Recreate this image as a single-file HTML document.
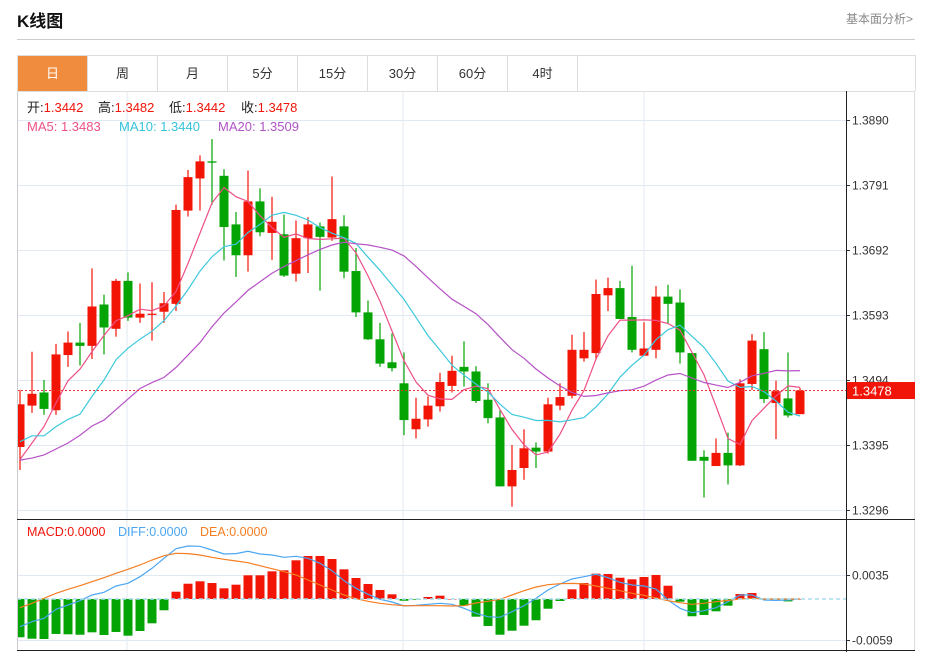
<!DOCTYPE html>
<html><head><meta charset="utf-8">
<style>
html,body{margin:0;padding:0;background:#fff;}
body{width:925px;height:653px;position:relative;overflow:hidden;font-family:"Liberation Sans","Noto Sans CJK SC",sans-serif;}
.title{position:absolute;left:17px;top:7px;font-size:17px;font-weight:bold;color:#111;}
.more{position:absolute;right:12px;top:10px;font-size:12px;color:#888;}
.hr{position:absolute;left:17px;top:39px;width:898px;height:1px;background:#ccc;}
.tabs{position:absolute;left:17px;top:55px;width:897px;height:35px;border:1px solid #ddd;border-bottom:none;display:flex;}
.tab{width:69px;height:35px;line-height:35px;text-align:center;font-size:13px;color:#333;border-right:1px solid #ddd;}
.tab.active{background:#f08c3e;color:#fff;}
svg{position:absolute;left:0;top:0;}
</style></head>
<body>
<div class="title">K线图</div>
<div class="more">基本面分析&gt;</div>
<div class="hr"></div>
<div class="tabs">
<div class="tab active">日</div>
<div class="tab">周</div>
<div class="tab">月</div>
<div class="tab">5分</div>
<div class="tab">15分</div>
<div class="tab">30分</div>
<div class="tab">60分</div>
<div class="tab">4时</div>
</div>
<svg id="chart" width="925" height="653"></svg>
<script>
const opens=[1.3392,1.3455,1.3475,1.3448,1.3532,1.3551,1.3546,1.3609,1.3572,1.3645,1.3589,1.3594,1.3598,1.3610,1.3752,1.3801,1.3827,1.3805,1.3731,1.3684,1.3766,1.3718,1.3716,1.3656,1.3710,1.3728,1.3711,1.3728,1.3660,1.3597,1.3556,1.3521,1.3489,1.3419,1.3434,1.3454,1.3485,1.3514,1.3507,1.3464,1.3437,1.3332,1.3360,1.3391,1.3385,1.3455,1.3470,1.3527,1.3535,1.3623,1.3634,1.3590,1.3531,1.3540,1.3621,1.3612,1.3535,1.3377,1.3363,1.3383,1.3364,1.3488,1.3541,1.3459,1.3466,1.3442];
const highs=[1.3479,1.3537,1.3494,1.3549,1.3568,1.3581,1.3664,1.3624,1.3648,1.3658,1.3641,1.3643,1.3628,1.3761,1.3814,1.3836,1.3861,1.3815,1.3750,1.3813,1.3786,1.3773,1.3746,1.3737,1.3742,1.3734,1.3804,1.3745,1.3695,1.3615,1.3581,1.3565,1.3536,1.3467,1.3469,1.3505,1.3531,1.3553,1.3515,1.3489,1.3448,1.3395,1.3419,1.3399,1.3467,1.3489,1.3563,1.3567,1.3647,1.3650,1.3645,1.3668,1.3582,1.3637,1.3639,1.3632,1.3535,1.3387,1.3405,1.3414,1.3495,1.3564,1.3567,1.3493,1.3536,1.3482];
const lows=[1.3357,1.3444,1.3441,1.3441,1.3514,1.3516,1.3526,1.3533,1.3560,1.3584,1.3581,1.3554,1.3581,1.3599,1.3743,1.3752,1.3761,1.3676,1.3651,1.3659,1.3713,1.3677,1.3651,1.3644,1.3657,1.3630,1.3706,1.3649,1.3590,1.3555,1.3514,1.3507,1.3410,1.3405,1.3423,1.3446,1.3475,1.3484,1.3459,1.3428,1.3332,1.3301,1.3342,1.3360,1.3382,1.3448,1.3466,1.3522,1.3525,1.3599,1.3587,1.3536,1.3531,1.3527,1.3580,1.3519,1.3371,1.3315,1.3363,1.3335,1.3363,1.3479,1.3459,1.3404,1.3437,1.3442];
const closes=[1.3457,1.3473,1.3450,1.3533,1.3551,1.3546,1.3606,1.3574,1.3645,1.3589,1.3595,1.3595,1.3611,1.3753,1.3803,1.3827,1.3825,1.3727,1.3684,1.3766,1.3719,1.3735,1.3653,1.3710,1.3731,1.3712,1.3739,1.3659,1.3597,1.3556,1.3519,1.3512,1.3433,1.3435,1.3455,1.3491,1.3508,1.3507,1.3462,1.3436,1.3332,1.3357,1.3390,1.3385,1.3457,1.3468,1.3540,1.3540,1.3625,1.3634,1.3587,1.3540,1.3542,1.3621,1.3610,1.3536,1.3371,1.3371,1.3383,1.3364,1.3489,1.3554,1.3465,1.3477,1.3440,1.3478];
// moving-average values for the leading bars whose window starts before the visible data
const ma5Lead=[1.3373,1.3398,1.3423,1.3459];
const ma10Lead=[1.3400,1.3409,1.3409,1.3423,1.3434,1.3442,1.3469,1.3494,1.3525];
const ma20Lead=[1.3372,1.3375,1.3380,1.3389,1.3398,1.3410,1.3424,1.3433,1.3449,1.3465,1.3481,1.3490,1.3498,1.3513,1.3532,1.3551,1.3575,1.3596,1.3613];
const priceTicks=[1.3890,1.3791,1.3692,1.3593,1.3494,1.3395,1.3296];
const lastPrice=1.3478;
const macdHist=[-0.00556,-0.00577,-0.00581,-0.00508,-0.00513,-0.00519,-0.00484,-0.00523,-0.00479,-0.00533,-0.00465,-0.00353,-0.00164,0.00106,0.00222,0.00257,0.00232,0.00155,0.00208,0.00344,0.00344,0.00402,0.00417,0.00562,0.00625,0.00625,0.00581,0.00431,0.00305,0.00218,0.00131,0.00068,-0.00025,-0.0001,0.00029,0.00048,0,-0.00097,-0.00257,-0.00392,-0.00519,-0.00461,-0.00388,-0.00309,-0.00141,-0.00029,0.00141,0.00232,0.00368,0.00363,0.00309,0.00286,0.0032,0.00349,0.00193,-0.00039,-0.00251,-0.00232,-0.00179,-0.00097,0.00073,0.00087,-0.0001,-0.0001,-0.00035,0];
const diffLine=[-0.00402,-0.0033,-0.0028,-0.0015,-0.00087,-0.00025,0.00058,0.00097,0.00189,0.00228,0.00324,0.00446,0.00591,0.00731,0.0077,0.00765,0.00712,0.00654,0.00659,0.00693,0.00654,0.00639,0.00606,0.0062,0.00591,0.00518,0.00411,0.00266,0.00155,0.00068,-0.00004,-0.00044,-0.00102,-0.00092,-0.00077,-0.00063,-0.00077,-0.00135,-0.00208,-0.00257,-0.00266,-0.00184,-0.00097,0.0001,0.00131,0.00218,0.00291,0.00324,0.00359,0.00309,0.00243,0.00203,0.00189,0.00145,-0.00015,-0.00135,-0.00199,-0.0017,-0.00126,-0.00039,0.00058,0.00058,-0.00015,-0.0002,-0.00015,0];
const deaLine=[-0.00126,-0.00063,0.0001,0.00083,0.00141,0.00193,0.00251,0.00309,0.00373,0.00431,0.00494,0.00567,0.00629,0.00664,0.00659,0.00639,0.00606,0.00577,0.00552,0.00527,0.00484,0.0044,0.00397,0.00349,0.00276,0.00203,0.00131,0.00058,0.00004,-0.00033,-0.00063,-0.00083,-0.00097,-0.00097,-0.00097,-0.00097,-0.00102,-0.00097,-0.00058,-0.00033,-0.00004,0.00058,0.00121,0.00174,0.00208,0.00222,0.00227,0.00218,0.00189,0.00155,0.00121,0.00083,0.00054,0.00015,-0.00025,-0.00054,-0.00077,-0.00063,-0.00039,-0.0002,0,0.0001,0,0,0,0];
const macdTicks=[0.0035,-0.0059];

const svg=document.getElementById('chart');
const NS='http://www.w3.org/2000/svg';
function mk(tag,attrs,parent){const e=document.createElementNS(NS,tag);for(const k in attrs)e.setAttribute(k,attrs[k]);(parent||svg).appendChild(e);return e;}
const PL=17,PR=846,MT=91,MB=519,ST=519,SB=650;
const xOf=i=>20+12*i;
const yP=p=>120+(1.3890-p)*6566;
const yM=v=>599-v*6883;

const defs=mk('defs',{});
const cp=mk('clipPath',{id:'plotclip'},defs);
mk('rect',{x:PL,y:MT,width:PR-PL,height:SB-MT},cp);

[127,403,644].forEach(x=>{const g=mk('line',{x1:x,y1:MT,x2:x,y2:SB,stroke:'#e1eaf2','stroke-width':1});

});
priceTicks.forEach(p=>{const y=Math.round(yP(p))+0.5;
const g=mk('line',{x1:PL,y1:y,x2:PR,y2:y,stroke:'#e1eaf2','stroke-width':1});


mk('line',{x1:PR,y1:y,x2:PR+4,y2:y,stroke:'#333','stroke-width':1});
const t=mk('text',{x:PR+6,y:y+4,'font-size':12,fill:'#333','font-family':'Liberation Sans, sans-serif'});t.textContent=p.toFixed(4);

});
macdTicks.forEach(v=>{const y=Math.round(yM(v))+0.5;
const g=mk('line',{x1:PL,y1:y,x2:PR,y2:y,stroke:'#e1eaf2','stroke-width':1});


mk('line',{x1:PR,y1:y,x2:PR+4,y2:y,stroke:'#333','stroke-width':1});
const t=mk('text',{x:PR+6,y:y+4,'font-size':12,fill:'#333','font-family':'Liberation Sans, sans-serif'});t.textContent=v.toFixed(4);

});

const plot=mk('g',{'clip-path':'url(#plotclip)'});



const RED='#f21405',GREEN='#04a404';
for(let i=0;i<opens.length;i++){
 const up=closes[i]>=opens[i];const c=up?RED:GREEN;const x=xOf(i);
 const g=mk('g',{},plot);
 
 
 mk('line',{x1:x,y1:yP(highs[i]),x2:x,y2:yP(lows[i]),stroke:c,'stroke-width':1.2},g);
 const top=yP(Math.max(opens[i],closes[i])),bot=yP(Math.min(opens[i],closes[i]));
 mk('rect',{x:x-4.5,y:top,width:9,height:Math.max(1.2,bot-top),fill:c},g);
}
function ma(n,lead){return closes.map((c,i)=>{if(i<n-1)return lead[i];let s=0;for(let k=i-n+1;k<=i;k++)s+=closes[k];return s/n;});}
[[ma(5,ma5Lead),'#ee4f86','ma5-line'],[ma(10,ma10Lead),'#3cc8dc','ma10-line'],[ma(20,ma20Lead),'#b652c6','ma20-line']].forEach(([arr,col,name])=>{
 const l=mk('polyline',{points:arr.map((v,i)=>xOf(i)+','+yP(v).toFixed(1)).join(' '),fill:'none',stroke:col,'stroke-width':1.2},plot);
 
 
});
const ly=yP(lastPrice);
const pl=mk('line',{x1:PL,y1:ly,x2:PR,y2:ly,stroke:'#f03030','stroke-width':1,'stroke-dasharray':'2,2'});



const zl=mk('line',{x1:PL,y1:yM(0),x2:PR,y2:yM(0),stroke:'#a9dced','stroke-width':1.5,'stroke-dasharray':'4,3'});


macdHist.forEach((v,i)=>{const y0=yM(0),y1=yM(v);
 const r=mk('rect',{x:xOf(i)-4.5,y:Math.min(y0,y1),width:9,height:Math.max(0.5,Math.abs(y1-y0)),fill:v>=0?RED:GREEN},plot);
 
 });
[[diffLine,'#4ba6f2','diff-line'],[deaLine,'#f57d22','dea-line']].forEach(([arr,col,name])=>{
 const l=mk('polyline',{points:arr.map((v,i)=>xOf(i)+','+yM(v).toFixed(1)).join(' '),fill:'none',stroke:col,'stroke-width':1.2},plot);
 
 
});

mk('line',{x1:17.5,y1:MT,x2:17.5,y2:SB,stroke:'#ccc'});
mk('line',{x1:914.5,y1:MT,x2:914.5,y2:SB,stroke:'#ddd'});
mk('line',{x1:PL,y1:MT+0.5,x2:915,y2:MT+0.5,stroke:'#ddd'});
mk('line',{x1:PR+0.5,y1:MT,x2:PR+0.5,y2:SB+2,stroke:'#222'});
mk('line',{x1:PL,y1:ST+0.5,x2:915,y2:ST+0.5,stroke:'#222'});
mk('line',{x1:PL,y1:SB+0.5,x2:915,y2:SB+0.5,stroke:'#222'});

const pb=mk('rect',{x:PR+1,y:ly-8.5,width:68,height:17,fill:'#f01508'});


const pt=mk('text',{x:PR+6,y:ly+5,'font-size':13,fill:'#fff','font-family':'Liberation Sans, sans-serif'});pt.textContent=lastPrice.toFixed(4);



function leg(y,size,items){items.forEach(([x,label,lc,val,vc,name])=>{
 const t=mk('text',{x:x,y:y,'font-size':size,'font-family':'Liberation Sans, Noto Sans CJK SC, sans-serif'});
 
 
 const a=mk('tspan',{fill:lc},t);a.textContent=label;
 const b=mk('tspan',{fill:vc},t);b.textContent=val;});}
leg(112,13,[[27,'开:','#222','1.3442','#f0150a','open-legend'],[98,'高:','#222','1.3482','#f0150a','high-legend'],[169,'低:','#222','1.3442','#f0150a','low-legend'],[241,'收:','#222','1.3478','#f0150a','close-legend']]);
leg(131,13,[[27,'MA5: ','#ec5087','1.3483','#ec5087','ma5-legend'],[119,'MA10: ','#35c3da','1.3440','#35c3da','ma10-legend'],[218,'MA20: ','#b054c5','1.3509','#b054c5','ma20-legend']]);
leg(536,12.5,[[27,'MACD:','#f0150a','0.0000','#f0150a','macd-legend'],[118,'DIFF:','#4ba6f2','0.0000','#4ba6f2','diff-legend'],[200,'DEA:','#f57d22','0.0000','#f57d22','dea-legend']]);
</script>
</body></html>
